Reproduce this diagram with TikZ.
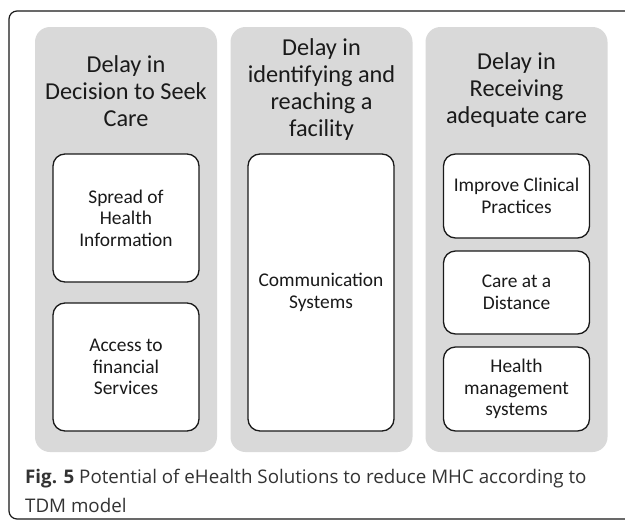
\documentclass[tikz,border=0pt]{standalone}
\usepackage{fontspec}
\setmainfont{Carlito}
\newfontfamily\capfont{Open Sans}
\definecolor{panelgray}{HTML}{D9D9D9}
\definecolor{ink}{HTML}{1A1A1A}
\definecolor{capink}{HTML}{333333}
\tikzset{
  x=1pt, y=-1pt,
  panel/.style={fill=panelgray, draw=none, rounded corners=15pt, minimum width=182pt, inner sep=0pt},
  head/.style={text=ink, align=center, inner sep=0pt, font=\fontsize{24.3}{27}\selectfont},
  itembox/.style={draw=ink, fill=white, line width=1.3pt, rounded corners=12pt, minimum width=146pt, inner sep=0pt, align=center, text=ink, font=\fontsize{19.4}{21.5}\selectfont},
  frame/.style={draw=ink, line width=1.2pt, rounded corners=8pt},
  captxt/.style={text=capink, inner sep=0pt, anchor=base west, font=\capfont\fontsize{18.75}{29}\selectfont}
}
\begin{document}
\begin{tikzpicture}
\clip (0,0) rectangle (625,520);
\fill[white] (0,0) rectangle (625,520);
\draw[frame] (9,11) rectangle (645,519);
% panels
\node[panel, minimum height=425pt] (p1) at (126,239.5) {};
\node[panel, minimum height=425pt] (p2) at (321.5,239.5) {};
\node[panel, minimum height=425pt] (p3) at (516.5,239.5) {};
% headers
\node[head] (h1) at (126,91) {Delay in\\Decision to Seek\\Care};
\node[head] (h2) at (321.5,90) {Delay in\\identifying and\\reaching a\\facility};
\node[head] (h3) at (516.5,90) {Delay in\\Receiving\\adequate care};
% boxes
\node[itembox, minimum height=128pt] (b11) at (126,218) {Spread of\\Health\\Information};
\node[itembox, minimum height=128pt] (b12) at (126,367) {Access to\\financial\\Services};
\node[itembox, minimum height=277pt] (b21) at (321,292.5) {Communication\\Systems};
\node[itembox, minimum height=84pt] (b31) at (516.5,196) {Improve Clinical\\Practices};
\node[itembox, minimum height=83pt] (b32) at (516.5,292.5) {Care at a\\Distance};
\node[itembox, minimum height=84pt] (b33) at (516.5,389) {Health\\management\\systems};
% caption
\node[captxt] (c1) at (25,483) {\textbf{Fig. 5} Potential of eHealth Solutions to reduce MHC according to};
\node[captxt] (c2) at (25,512) {TDM model};
\end{tikzpicture}
\end{document}
